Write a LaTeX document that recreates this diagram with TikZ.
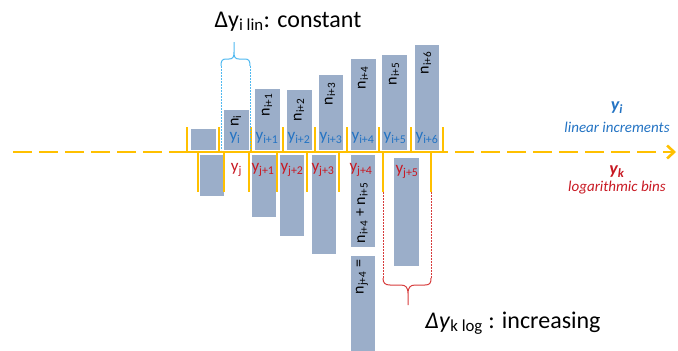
\documentclass[tikz,border=0pt]{standalone}
\usepackage{fontspec}
\setmainfont{Carlito}
\usetikzlibrary{arrows.meta}

\definecolor{barblue}{RGB}{155,174,201}
\definecolor{axisorange}{RGB}{255,192,0}
\definecolor{linblue}{RGB}{35,115,195}
\definecolor{braceblue}{RGB}{80,185,240}
\definecolor{logred}{RGB}{200,25,35}
\definecolor{bracered}{RGB}{215,60,60}

\begin{document}
\begin{tikzpicture}[x=1pt, y=-1pt,
    bar/.style={fill=barblue, draw=white, line width=0.6pt},
    binmark/.style={axisorange, line width=2.2pt},
    linlabel/.style={text=linblue, font=\fontsize{17}{18}\selectfont, inner sep=0pt},
    loglabel/.style={text=logred, font=\fontsize{17}{18}\selectfont, inner sep=0pt},
    countlabel/.style={rotate=90, font=\fontsize{16}{18}\selectfont, inner sep=0pt},
    caption/.style={font=\fontsize{24}{28}\selectfont, anchor=base, inner sep=0pt}]

    \useasboundingbox (0,0) rectangle (678,351);

    % bars above the axis: linear increments
    \draw[bar] (190,128) rectangle (216,150);
    \draw[bar] (223,109) rectangle (249,150);
    \draw[bar] (254,88) rectangle (280,150);
    \draw[bar] (286,89) rectangle (312,150);
    \draw[bar] (318,74) rectangle (343,150);
    \draw[bar] (350,58) rectangle (376,150);
    \draw[bar] (381,54) rectangle (407,150);
    \draw[bar] (414,44) rectangle (439,150);

    % bars below the axis: logarithmic bins
    \draw[bar] (199,154) rectangle (224,196);
    \draw[bar] (251,154) rectangle (276,217);
    \draw[bar] (279,154) rectangle (304,236);
    \draw[bar] (311,154) rectangle (336,254);
    \draw[bar] (350,154) rectangle (375,247);
    \draw[bar] (350,255) rectangle (375,351);
    \draw[bar] (393,157) rectangle (419,266);

    % axis
    \draw[axisorange, line width=2.6pt, dash pattern=on 19pt off 7pt,
        -{Straight Barb[length=7pt, width=13pt]}] (13,152) -- (676,152);
    \draw[axisorange, line width=2.6pt] (187,152) -- (448,152);
    \foreach \x in {187,219,251,283,315,347,379,411,443}
        \draw[binmark] (\x,127) -- (\x,152);
    \foreach \x in {198,224,249,277,307,339,383,431}
        \draw[binmark] (\x,152) -- (\x,192);

    % brace over one linear increment
    \draw[braceblue, line width=0.9pt, dash pattern=on 2pt off 1pt] (221,66) -- (221,150);
    \draw[braceblue, line width=0.9pt, dash pattern=on 2pt off 1pt] (250,66) -- (250,150);
    \draw[braceblue, line width=1pt]
        (221,66) .. controls (221,61) and (222,59) .. (226,59) -- (229,59)
        .. controls (233,59) and (234,57) .. (234,52) -- (234,42)
        (234,52) .. controls (234,57) and (235,59) .. (239,59) -- (245,59)
        .. controls (249,59) and (250,61) .. (250,66);

    % brace under one logarithmic bin
    \draw[bracered, line width=0.9pt, dash pattern=on 2pt off 1pt] (383,192) -- (383,278);
    \draw[bracered, line width=0.9pt, dash pattern=on 2pt off 1pt] (431,192) -- (431,278);
    \draw[bracered, line width=1pt]
        (383,278) .. controls (383,283) and (385,285) .. (390,285) -- (401,285)
        .. controls (406,285) and (408,288) .. (408,293) -- (408,305)
        (408,293) .. controls (408,288) and (410,285) .. (415,285) -- (425,285)
        .. controls (430,285) and (431,283) .. (431,278);

    % counts
    \node[countlabel] (ni) at (236,121) {n\textsubscript{i}};
    \node[countlabel] (ni1) at (267,105) {n\textsubscript{i+1}};
    \node[countlabel] (ni2) at (299,110) {n\textsubscript{i+2}};
    \node[countlabel] (ni3) at (330,94) {n\textsubscript{i+3}};
    \node[countlabel] (ni4) at (363,78) {n\textsubscript{i+4}};
    \node[countlabel] (ni5) at (394,74) {n\textsubscript{i+5}};
    \node[countlabel] (ni6) at (426,63) {n\textsubscript{i+6}};
    \node[countlabel] (nsum) at (362,213) {n\textsubscript{i+4} + n\textsubscript{i+5}};
    \node[countlabel] (nj4) at (362,277) {n\textsubscript{j+4} =};

    % bin labels
    \node[linlabel] (yi) at (235,138) {y\textsubscript{i}};
    \node[linlabel] (yi1) at (267,138) {y\textsubscript{i+1}};
    \node[linlabel] (yi2) at (299,138) {y\textsubscript{i+2}};
    \node[linlabel] (yi3) at (331,138) {y\textsubscript{i+3}};
    \node[linlabel] (yi4) at (363,138) {y\textsubscript{i+4}};
    \node[linlabel] (yi5) at (395,138) {y\textsubscript{i+5}};
    \node[linlabel] (yi6) at (427,138) {y\textsubscript{i+6}};

    \node[loglabel] (yj) at (236.5,170) {y\textsubscript{j}};
    \node[loglabel] (yj1) at (263,170) {y\textsubscript{j+1}};
    \node[loglabel] (yj2) at (292,170) {y\textsubscript{j+2}};
    \node[loglabel] (yj3) at (323,170) {y\textsubscript{j+3}};
    \node[loglabel] (yj4) at (361,170) {y\textsubscript{j+4}};
    \node[loglabel] (yj5) at (407,172) {y\textsubscript{j+5}};

    % legend
    \node[text=linblue, font=\fontsize{18}{20}\selectfont\bfseries\itshape] (ylin) at (617,108) {y\textsubscript{i}};
    \node[text=linblue, font=\fontsize{15}{18}\selectfont\itshape] (lintext) at (617,127) {linear increments};
    \node[text=logred, font=\fontsize{18}{20}\selectfont\bfseries\itshape] (ylog) at (617,172) {y\textsubscript{k}};
    \node[text=logred, font=\fontsize{15}{18}\selectfont\itshape] (logtext) at (617,188) {logarithmic bins};

    % captions
    \node[caption] (constant) at (288,27) {Δy\textsubscript{i lin}: constant};
    \node[caption] (increasing) at (513,328) {\textit{Δy}\textsubscript{k log} : increasing};
\end{tikzpicture}
\end{document}
